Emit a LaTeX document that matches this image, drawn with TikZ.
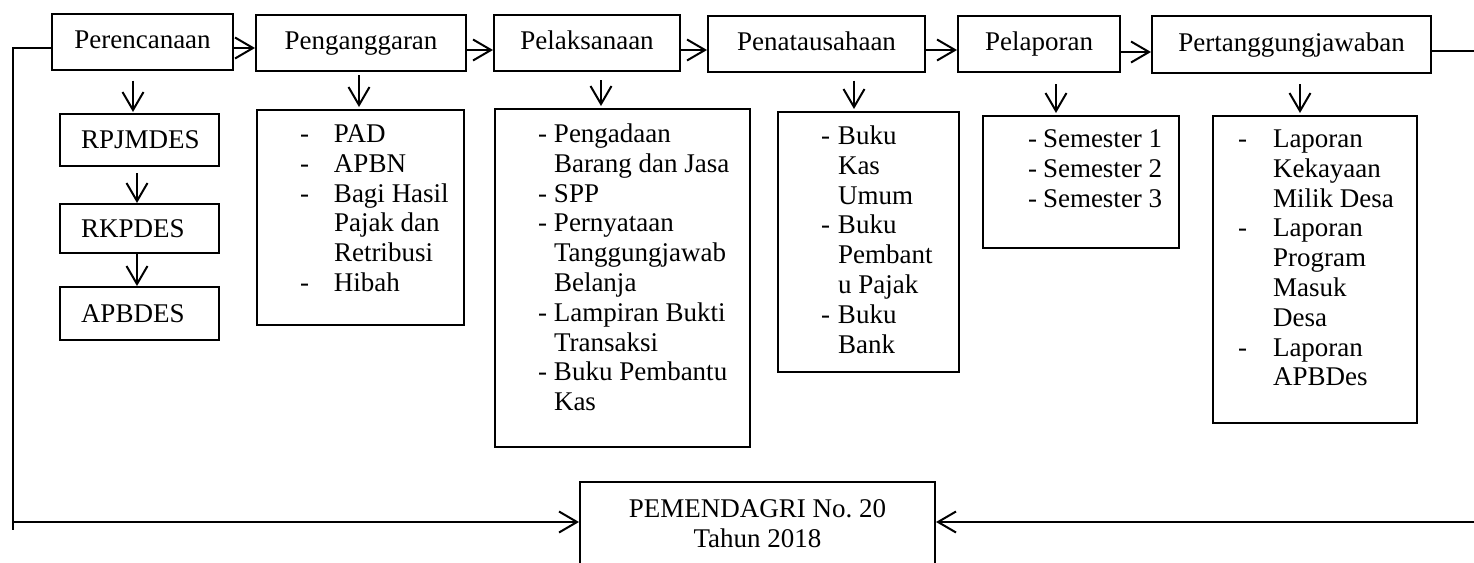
\documentclass[tikz,border=0pt]{standalone}
\usepackage{fontspec}
\setmainfont{Liberation Serif}
\usetikzlibrary{arrows.meta}
\newcommand{\dashlist}[2]{\begin{tabular}[t]{@{}p{#1}@{}l@{}}#2\end{tabular}}

\begin{document}
\begin{tikzpicture}[x=1pt,y=-1pt,line width=2pt,font=\fontsize{27}{29.8}\selectfont,
  stage/.style={draw,rectangle,inner sep=0pt,minimum height=56pt,text height=18pt,text depth=5pt},
  doc/.style={draw,rectangle,inner xsep=21pt,inner ysep=0pt,text width=117pt,align=left},
  listbox/.style={draw,rectangle,inner sep=0pt,anchor=north west},
  items/.style={inner sep=0pt,anchor=base west},
  arr/.style={-{Straight Barb[length=18pt,width=21pt]}}]
\clip (0,0) rectangle (1474,562);
\node[stage, minimum width=181pt] (plan) at (142.5,41.5) {Perencanaan};
\node[stage, minimum width=210pt] (budget) at (361,43) {Penganggaran};
\node[stage, minimum width=186pt] (impl) at (587,43) {Pelaksanaan};
\node[stage, minimum width=217pt] (admin) at (816.5,43.5) {Penatausahaan};
\node[stage, minimum width=162pt] (report) at (1039,44) {Pelaporan};
\node[stage, minimum width=279pt, minimum height=57pt] (account) at (1291.5,44.5) {Pertanggungjawaban};

\foreach \a/\b/\y in {plan/budget/6.5,budget/impl/7,impl/admin/7,admin/report/6.5,report/account/8} {
  \draw[arr] ([yshift=-\y pt]\a.east) -- ([yshift=-\y pt]\a.east -| \b.west);
}

% planning documents
\node[doc, minimum height=52pt] (rpjm) at (139.5,140) {RPJMDES};
\node[doc, minimum height=49pt] (rkp) at (139.5,228.5) {RKPDES};
\node[doc, minimum height=53pt] (apb) at (139.5,313.5) {APBDES};
\foreach \a/\b/\d/\s/\e in {plan/rpjm/-6.5/10/1,rpjm/rkp/-2.5/6/0,rkp/apb/-2.5/0/0} {
  \draw[arr, shorten <=\s pt, shorten >=\e pt] ([xshift=\d pt]\b.north |- \a.south) -- ([xshift=\d pt]\b.north);
}

% item lists
\node[listbox, minimum width=207pt, minimum height=215pt] (lbudget) at (256,109) {};
\node[items] (tbudget) at (299,142.5) {\dashlist{34pt}{- & PAD\\ - & APBN\\ - & Bagi Hasil\\ & Pajak dan\\ & Retribusi\\ - & Hibah}};
\node[listbox, minimum width=255pt, minimum height=338pt] (limpl) at (494,108) {};
\node[items] (timpl) at (537,142.5) {\dashlist{16pt}{- & Pengadaan\\ & Barang dan Jasa\\ - & SPP\\ - & Pernyataan\\ & Tanggungjawab\\ & Belanja\\ - & Lampiran Bukti\\ & Transaksi\\ - & Buku Pembantu\\ & Kas}};
\node[listbox, minimum width=181pt, minimum height=260pt] (ladmin) at (777,111) {};
\node[items] (tadmin) at (820,144.5) {\dashlist{17pt}{- & Buku\\ & Kas\\ & Umum\\ - & Buku\\ & Pembant\\ & u Pajak\\ - & Buku\\ & Bank}};
\node[listbox, minimum width=196pt, minimum height=132pt] (lreport) at (982,115) {};
\node[items] (treport) at (1027,147.5) {\dashlist{15pt}{- & Semester 1\\ - & Semester 2\\ - & Semester 3}};
\node[listbox, minimum width=204pt, minimum height=307pt] (laccount) at (1212,115) {};
\node[items] (taccount) at (1237,147.5) {\dashlist{35pt}{- & Laporan\\ & Kekayaan\\ & Milik Desa\\ - & Laporan\\ & Program\\ & Masuk\\ & Desa\\ - & Laporan\\ & APBDes}};

\foreach \a/\b/\d/\s in {budget/lbudget/-1.5/3,impl/limpl/-21.5/8,admin/ladmin/-14.5/8,report/lreport/-25/11,account/laccount/-15/10} {
  \draw[arr, shorten <=\s pt, shorten >=2pt] ([xshift=\d pt]\b.north |- \a.south) -- ([xshift=\d pt]\b.north);
}

% regulation
\node[draw, align=center, inner sep=0pt, minimum width=355pt, minimum height=84pt] (law) at (757.5,524) {PEMENDAGRI No.\ 20\\Tahun 2018};
\coordinate (lft) at (12.5,530);
\coordinate (rgt) at (1480,522);
\draw ([yshift=-6.5pt]plan.west) -| (lft);
\draw[arr] (lft |- rgt) -- (rgt -| law.west);
\draw[arr] ([yshift=-6.5pt]account.east) -| (rgt) -- (rgt -| law.east);
\end{tikzpicture}
\end{document}
